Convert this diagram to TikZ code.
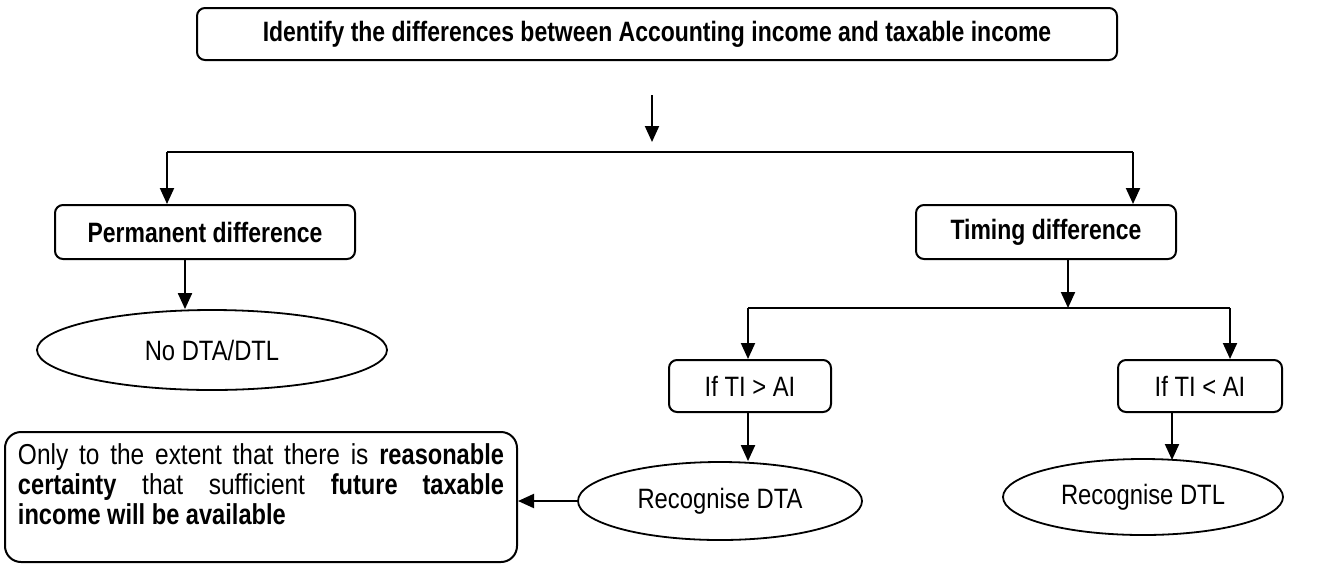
\documentclass[tikz,border=0pt]{standalone}
\usepackage{fontspec}
\setmainfont{Liberation Sans}[FakeStretch=0.85,BoldFeatures={FakeStretch=0.82}]
\usetikzlibrary{arrows.meta,shapes.geometric}

\tikzset{
	flowbox/.style={draw,line width=1pt,rounded corners=4pt,align=center,inner sep=2pt},
	flowoval/.style={draw,line width=0.9pt,ellipse,inner sep=0pt,align=center},
	flowarrow/.style={line width=1pt,-{Triangle[length=8pt,width=7pt]}},
	flowline/.style={line width=1pt}
}

\begin{document}
\begin{tikzpicture}[x=0.5pt,y=-0.5pt,font=\fontsize{14}{16}\selectfont]
			\useasboundingbox (0,0) rectangle (1325,563);
			\node[flowbox,minimum width=460pt,minimum height=26pt,font=\fontsize{14}{16}\selectfont\bfseries]
				(ident) at (657,34) {Identify the differences between Accounting income and taxable income};
			\node[flowbox,minimum width=150pt,minimum height=27pt,font=\fontsize{14}{16}\selectfont\bfseries]
				(perm) at (205,232) {Permanent difference};
			\node[flowbox,minimum width=130pt,minimum height=27pt,font=\fontsize{14}{16}\selectfont\bfseries]
				(timing) at (1046,232) {Timing difference};
			\node[flowoval,minimum width=175pt,minimum height=40pt] (nodtx) at (212,350) {No DTA/DTL};
			\node[flowbox,minimum width=81pt,minimum height=26pt] (tigt) at (750,386) {If TI > AI};
			\node[flowbox,minimum width=82pt,minimum height=26pt] (tilt) at (1200,386) {If TI < AI};
			\node[flowoval,minimum width=142pt,minimum height=39pt] (recdta) at (720,501) {Recognise DTA};
			\node[flowoval,minimum width=140pt,minimum height=38pt] (recdtl) at (1143,497) {Recognise DTL};
			\node[flowbox,rounded corners=8pt,minimum width=256pt,minimum height=65pt] (extent) at (261,497) {};
			\node[anchor=north,text width=243pt,align=justify,inner sep=0pt,
				font=\fontsize{14.4}{15}\selectfont] (extenttext) at ([yshift=-6pt]extent.north)
				{\hyphenpenalty=10000\exhyphenpenalty=10000
				Only to the extent that there is \textbf{reasonable certainty} that sufficient
				\textbf{future taxable income will be available}\par};
			% branch points
			\coordinate (gap) at (652,95);
			\coordinate (split) at (652,152);
			\coordinate (splitL) at (167,152);
			\coordinate (splitR) at (1133,152);
			\coordinate (tsplit) at (1068,308);
			\coordinate (tsplitL) at (748,308);
			\coordinate (tsplitR) at (1230,308);
			\draw[flowarrow] (gap) -- ([yshift=5pt]split);
			\draw[flowline] (splitL) -- (splitR);
			\draw[flowarrow] (splitL) -- (perm.north -| splitL);
			\draw[flowarrow] (splitR) -- (timing.north -| splitR);
			\draw[flowarrow] (perm.south -| 185,0) -- (nodtx.north -| 185,0);
			\draw[flowarrow] (timing.south -| tsplit) -- (tsplit);
			\draw[flowline] (tsplitL) -- (tsplitR);
			\draw[flowarrow] (tsplitL) -- (tigt.north -| tsplitL);
			\draw[flowarrow] (tsplitR) -- (tilt.north -| tsplitR);
			\draw[flowarrow] (tigt.south -| 748,0) -- (recdta.north -| 748,0);
			\draw[flowarrow] (tilt.south -| 1172,0) -- (1172,460);
			\draw[flowarrow] (recdta.west) -- (extent.east |- recdta.west);
		\end{tikzpicture}
\end{document}
